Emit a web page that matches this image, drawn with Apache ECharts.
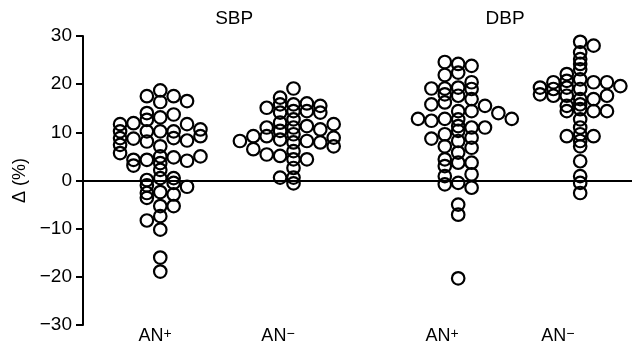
<!DOCTYPE html>
<html>
<head>
<meta charset="utf-8">
<script src="https://cdn.jsdelivr.net/npm/echarts@6/dist/echarts.min.js"></script>
<style>
    html, body {margin: 0; padding: 0; background: #fff;}
    #chart {width: 632px; height: 346px;}
</style>
</head>
<body>
<div id="chart"></div>
<script>
// x is measured in swarm columns (one circle width per unit)
const groupNames = ['AN+', 'AN−', 'AN+', 'AN−'];
const groupCentres = [5.77, 15.72, 28.02, 37.13];
const groupLabelPos = [5.38, 14.56, 26.81, 35.47];
const headerNames = ['SBP', 'DBP'];
const headerPos = [11.29, 31.52];
const yTicks = [-30, -20, -10, 0, 10, 20, 30];

// each group: columns left to right, first column offset given separately
const firstColumn = [-3, -4, -3, -3];

const sbpAnPos = [
    [11.7, 10.2, 8.8, 7.4, 5.7],
    [11.9, 8.7, 4.3, 3.1],
    [17.5, 14.0, 12.6, 10.2, 8.1, 4.3, 0.1, -1.0, -2.6, -3.6, -8.3],
    [18.7, 16.3, 13.1, 10.2, 7.1, 5.0, 3.6, 2.2, 0.5, -2.4, -5.3, -7.4, -10.2, -16.0, -18.9],
    [17.5, 13.7, 10.2, 8.8, 4.8, 0.5, -0.5, -2.9, -5.3],
    [16.5, 11.7, 8.3, 4.1, -1.3],
    [10.6, 9.2, 5.0]
];
const sbpAnNeg = [
    [8.2],
    [9.2, 6.5],
    [15.1, 11.0, 9.2, 5.4],
    [17.2, 15.8, 14.1, 12.0, 10.3, 8.5, 5.1, 0.6],
    [19.1, 15.8, 14.4, 12.7, 11.0, 9.6, 7.9, 6.1, 4.4, 2.6, 0.6, -0.6],
    [16.0, 14.4, 11.3, 8.2, 4.4],
    [15.5, 14.1, 10.6, 7.9],
    [11.7, 8.9, 7.1]
];
const dbpAnPos = [
    [12.8],
    [19.1, 15.8, 12.4, 8.7],
    [24.6, 21.9, 19.1, 17.9, 16.2, 12.8, 9.6, 7.1, 4.4, 3.0, 0.9, -0.8],
    [24.2, 22.4, 19.3, 17.6, 14.4, 12.7, 11.3, 10.3, 8.2, 5.8, 3.7, -0.5, -5.0, -7.1, -20.3],
    [23.8, 20.4, 19.0, 16.9, 14.4, 11.0, 8.9, 6.8, 3.7, 1.3, -1.5],
    [15.5, 11.0],
    [14.0],
    [12.8]
];
const dbpAnNeg = [
    [19.3, 17.9],
    [20.4, 19.0, 17.6],
    [22.1, 20.7, 19.3, 17.6, 15.5, 14.4, 9.2],
    [28.8, 26.6, 25.2, 24.2, 23.1, 21.0, 19.0, 16.9, 15.8, 14.8, 12.7, 11.0, 9.6, 8.2, 7.1, 4.0, 0.9, -0.5, -2.6],
    [28.0, 20.4, 16.9, 14.4, 9.2],
    [20.4, 17.6, 14.4],
    [19.6]
];

const groups = [sbpAnPos, sbpAnNeg, dbpAnPos, dbpAnNeg];

function swarm(columns, g) {
    const pts = [];
    columns.forEach(function (col, i) {
        col.forEach(function (v) {
            pts.push([groupCentres[g] + firstColumn[g] + i, v]);
        });
    });
    return pts;
}

const FONT = '"Liberation Sans", Arial, sans-serif';
const minus = function (v) { return String(v).replace('-', '\u2212'); };

const chartDom = document.getElementById('chart');
const myChart = echarts.init(chartDom);
let option;

option = {
    animation: false,
    grid: {left: 83, right: 0, top: 36, bottom: 21},
    xAxis: [
        {
            type: 'value',
            min: 0,
            max: 41,
            splitLine: {show: false},
            axisLine: {show: false},
            axisTick: {show: false},
            axisLabel: {
                customValues: groupLabelPos,
                margin: 2,
                color: '#000',
                fontFamily: FONT,
                fontSize: 18,
                formatter: function (v) {
                    const i = groupLabelPos.indexOf(v);
                    const name = groupNames[i] || '';
                    return 'AN{sup|' + name.slice(2) + '}';
                },
                rich: {
                    sup: {fontSize: 14, lineHeight: 9, verticalAlign: 'top', color: '#000', fontFamily: FONT}
                }
            }
        },
        {
            type: 'value',
            position: 'top',
            min: 0,
            max: 41,
            splitLine: {show: false},
            axisLine: {show: false},
            axisTick: {show: false},
            axisLabel: {
                customValues: headerPos,
                margin: 8,
                color: '#000',
                fontFamily: FONT,
                fontSize: 19,
                formatter: function (v) {
                    return headerNames[headerPos.indexOf(v)] || '';
                }
            }
        }
    ],
    yAxis: {
        type: 'value',
        min: -30,
        max: 30,
        interval: 10,
        name: 'Δ (%)',
        nameLocation: 'middle',
        nameGap: 54,
        nameTextStyle: {color: '#000', fontFamily: FONT, fontSize: 18},
        splitLine: {show: false},
        axisLine: {show: true, lineStyle: {color: '#000', width: 2}},
        axisTick: {show: true, length: 7, lineStyle: {color: '#000', width: 2}},
        axisLabel: {
            margin: 11,
            color: '#000',
            fontFamily: FONT,
            fontSize: 19,
            customValues: yTicks,
            formatter: minus
        }
    },
    series: groups.map(function (cols, g) {
        const s = {
            type: 'scatter',
            data: swarm(cols, g),
            symbol: 'circle',
            symbolSize: 12.5,
            silent: true,
            itemStyle: {color: 'rgba(0,0,0,0)', borderColor: '#000', borderWidth: 2.2, opacity: 1}
        };
        if (g === 0) {
            s.markLine = {
                silent: true,
                symbol: ['none', 'none'],
                label: {show: false},
                lineStyle: {color: '#000', width: 2, type: 'solid'},
                data: [{yAxis: 0}]
            };
        }
        return s;
    })
};

option && myChart.setOption(option);
window.addEventListener('resize', function () {
    if (myChart != null) {
        myChart.resize();
    }
});
</script>
</body>
</html>
